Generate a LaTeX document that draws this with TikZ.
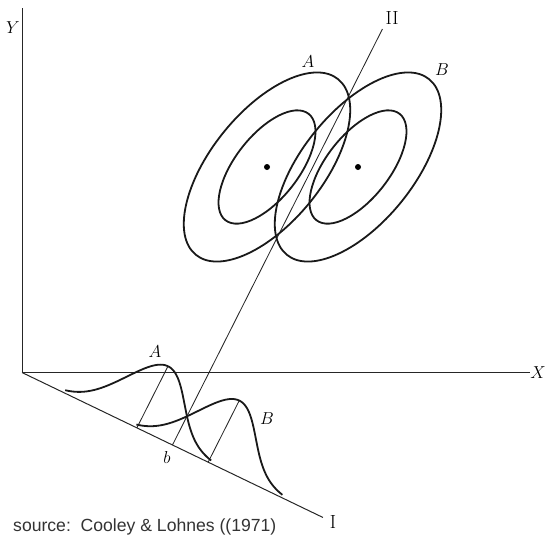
\documentclass[tikz,border=0pt]{standalone}
\usepackage{fontspec}
\newfontfamily\srcfont{Liberation Sans}
\begin{document}
\begin{tikzpicture}[x=1pt,y=-1pt,
  axisline/.style={line width=1pt, black!85},
  thinline/.style={line width=0.85pt, black!85},
  curve/.style={line width=1.8pt, black!90},
  lbl/.style={font=\fontsize{19}{22}\selectfont, inner sep=0pt}]
\useasboundingbox (0,0) rectangle (545,536);
% main axes
\coordinate (O) at (22,372.5);
\coordinate (Ytop) at (22,8);
\coordinate (Xend) at (530,372.5);
\draw[axisline] (Ytop) -- (O) -- (Xend);
% ellipse centres
\coordinate (cA) at (267,167);
\coordinate (cB) at (358,167);
% tilted frame: u along axis I, v along axis II
\begin{scope}[shift={(O)}, x={(0.901pt,-0.434pt)}, y={(0.4506pt,0.8927pt)}]
  \coordinate (Iend) at (334,0);
  \coordinate (bfoot) at (167,0);
  \coordinate (IItop) at (167,466);
  \coordinate (footA) at (127.5,0);
  \coordinate (peakA) at (127.5,69);
  \coordinate (footB) at (206.6,0);
  \coordinate (peakB) at (206.6,69);
  \draw[axisline] (O) -- (Iend);
  \draw[thinline] (bfoot) -- (IItop);
  \draw[thinline] (footA) -- (peakA);
  \draw[thinline] (footB) -- (peakB);
  \draw[curve] plot[domain=-81:81, samples=120, smooth] ({127.5+\x}, {69*exp(-\x*\x/2048)});
  \draw[curve] plot[domain=-81:81, samples=120, smooth] ({206.6+\x}, {69*exp(-\x*\x/2048)});
\end{scope}
% ellipses
\draw[curve, rotate around={51:(cA)}] (cA) ellipse[x radius=113, y radius=55.6];
\draw[curve, rotate around={52:(cA)}] (cA) ellipse[x radius=67.5, y radius=31.7];
\draw[curve, rotate around={51:(cB)}] (cB) ellipse[x radius=113, y radius=55.6];
\draw[curve, rotate around={52:(cB)}] (cB) ellipse[x radius=67.5, y radius=31.7];
\fill (cA) circle[radius=3];
\fill (cB) circle[radius=3];
% labels
\node[lbl] (lY) at (13,28) {$Y$};
\node[lbl] (lX) at (538,373) {$X$};
\node[lbl] (lAe) at (308,62) {$A$};
\node[lbl] (lBe) at (442,70) {$B$};
\node[lbl] (lII) at (392,18) {II};
\node[lbl] (lI) at (333,522) {I};
\node[lbl] (lb) at (167,457) {$b$};
\node[lbl] (lAc) at (155,352) {$A$};
\node[lbl] (lBc) at (267,419) {$B$};
\node[anchor=west, inner sep=0pt, font=\srcfont\fontsize{17.6}{20}\selectfont, black!80] (src) at (13,527) {source:\ \ Cooley \& Lohnes ((1971)};
\end{tikzpicture}
\end{document}
